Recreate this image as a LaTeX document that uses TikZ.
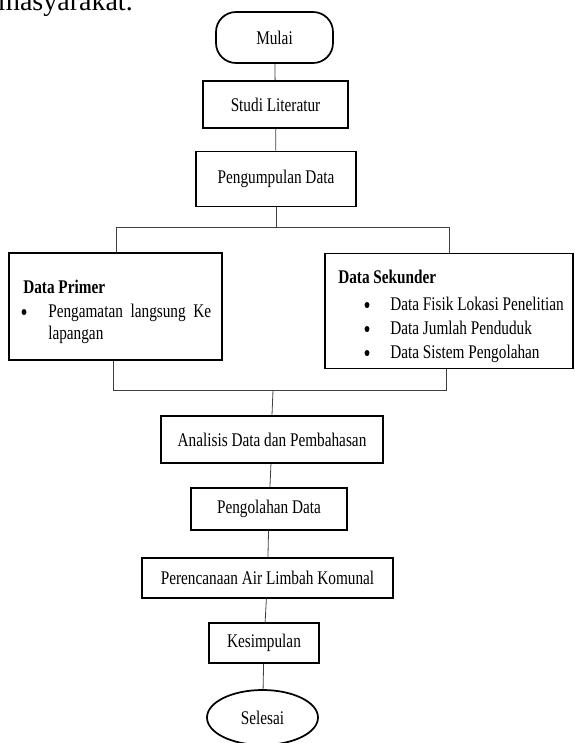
\documentclass[tikz,border=0pt]{standalone}
\usepackage{fontspec}
\setmainfont{Liberation Serif}[FakeStretch=0.79]
\newfontfamily\wideserif{Liberation Serif}
\usetikzlibrary{shapes.geometric}
\newcommand\pxu{0.75pt}
\begin{document}
\begin{tikzpicture}[x=0.75pt,y=-0.75pt,
  txt/.style={font=\fontsize{14.5}{17}\selectfont},
  box/.style={txt,draw=black,line width=1.3pt,rectangle,inner sep=0pt},
  link/.style={draw=black!75,line width=0.6pt},
  lbl/.style={txt,anchor=base west,inner sep=0pt},
  bul/.style={ellipse,fill=black,inner sep=0pt,minimum width=5*\pxu,minimum height=6*\pxu},
  head/.style={lbl,font=\bfseries\fontsize{14.5}{17}\selectfont}]
\useasboundingbox (0,0) rectangle (575,743);
% cut-off text above the chart
\node[anchor=base west,inner sep=0pt,font=\wideserif\fontsize{21}{24}\selectfont] (ctx) at (-2,10) {masyarakat.};
% main chain
\node[box,rounded corners=20*\pxu,minimum width=117*\pxu,minimum height=51*\pxu] (mulai) at (274.5,37.5) {Mulai};
\node[box,minimum width=145*\pxu,minimum height=47*\pxu] (studi) at (275.5,104.5) {Studi Literatur};
\node[box,minimum width=160*\pxu,minimum height=55*\pxu] (kumpul) at (276,179) {Pengumpulan Data};
% data boxes
\node[box,minimum width=213*\pxu,minimum height=107*\pxu] (primer) at (115.5,306.5) {};
\node[box,minimum width=248*\pxu,minimum height=115*\pxu] (sekunder) at (449,311) {};
\node[head] (primerhead) at (23,293) {Data Primer};
\node[bul] (pb1) at (24,312) {};
\node[lbl] (pt1) at (48,317) {\makebox[122.25pt][s]{Pengamatan langsung Ke}};
\node[lbl] (pt2) at (48,339) {lapangan};
\node[head] (sekhead) at (338,283) {Data Sekunder};
\node[bul] (sb1) at (367,305) {};
\node[lbl] (st1) at (390,310) {Data Fisik Lokasi Penelitian};
\node[bul] (sb2) at (367,329) {};
\node[lbl] (st2) at (390,334) {Data Jumlah Penduduk};
\node[bul] (sb3) at (367,353) {};
\node[lbl] (st3) at (390,358) {Data Sistem Pengolahan};
% lower chain
\node[box,minimum width=222*\pxu,minimum height=47*\pxu] (analisis) at (272,439.5) {Analisis Data dan Pembahasan};
\node[box,minimum width=156*\pxu,minimum height=42*\pxu] (olah) at (269,509) {Pengolahan Data};
\node[box,minimum width=251*\pxu,minimum height=40*\pxu] (rencana) at (267.5,578) {Perencanaan Air Limbah Komunal};
\node[box,minimum width=110*\pxu,minimum height=40*\pxu] (simpul) at (264,643) {Kesimpulan};
\node[box,ellipse,minimum width=111*\pxu,minimum height=55*\pxu] (selesai) at (262.5,717.5) {Selesai};
% connectors
\draw[link] (mulai) -- (studi);
\draw[link] (studi) -- (kumpul);
\coordinate (tm) at (276,227);
\coordinate (t1) at (116,227);
\coordinate (t2) at (449,227);
\draw[link] (kumpul.south) -- (tm);
\draw[link] (t1 |- primer.north) -- (t1) -- (t2) -- (t2 |- sekunder.north);
\coordinate (b1) at (113,390);
\coordinate (b2) at (446,390);
\coordinate (bm) at (273,390);
\draw[link] (b1 |- primer.south) -- (b1) -- (b2) -- (b2 |- sekunder.south);
\draw[link] (bm) -- (analisis.north);
\draw[link] (analisis) -- (olah);
\draw[link] (olah) -- (rencana);
\draw[link] (rencana) -- (simpul);
\draw[link] (simpul) -- (selesai);
\end{tikzpicture}
\end{document}
